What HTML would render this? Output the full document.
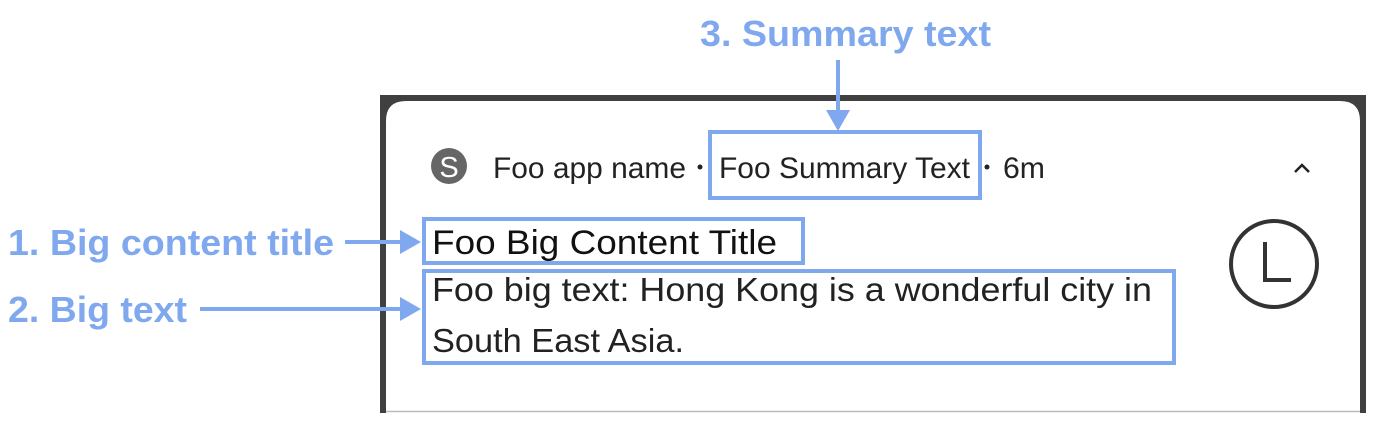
<!DOCTYPE html>
<html><head><meta charset="utf-8"><style>
html,body{margin:0;padding:0;background:#fff;width:1400px;height:444px;overflow:hidden}
</style></head><body>
<svg width="1400" height="444" viewBox="0 0 1400 444" xmlns="http://www.w3.org/2000/svg" font-family="Liberation Sans, sans-serif">
<rect width="1400" height="444" fill="#fff"/>
<path d="M380 413 V95 H1366 V413 Z" fill="#404040"/>
<path d="M386 413 V121 Q386 101 406 101 H1340 Q1360 101 1360 121 V413 Z" fill="#fff"/>
<line x1="386" y1="411.5" x2="1360" y2="411.5" stroke="#bbb" stroke-width="1.5"/>
<circle cx="449" cy="166" r="18" fill="#666"/>
<text x="449" y="177" font-size="29" fill="#fff" text-anchor="middle">S</text>
<text x="493" y="178" font-size="30" fill="#222" textLength="193" lengthAdjust="spacingAndGlyphs">Foo app name</text>
<circle cx="700" cy="167" r="2.5" fill="#222"/>
<text x="719" y="178" font-size="30" fill="#222" textLength="251" lengthAdjust="spacingAndGlyphs">Foo Summary Text</text>
<circle cx="987" cy="167" r="2.5" fill="#222"/>
<text x="1003" y="178" font-size="30" fill="#222" textLength="42" lengthAdjust="spacingAndGlyphs">6m</text>
<path d="M1295 172 L1302 165 L1309 172" fill="none" stroke="#222" stroke-width="2.5"/>
<text x="432" y="254" font-size="34" fill="#111" textLength="345" lengthAdjust="spacingAndGlyphs">Foo Big Content Title</text>
<text x="432" y="301" font-size="33" fill="#222" textLength="720" lengthAdjust="spacingAndGlyphs">Foo big text: Hong Kong is a wonderful city in</text>
<text x="432" y="352" font-size="33" fill="#222" textLength="252" lengthAdjust="spacingAndGlyphs">South East Asia.</text>
<circle cx="1274" cy="264" r="43" fill="none" stroke="#333" stroke-width="4"/>
<path d="M1265 242 V280 H1291" fill="none" stroke="#333" stroke-width="4"/>
<g fill="none" stroke="#7fa8ee" stroke-width="4">
<rect x="710" y="132" width="270" height="66"/>
<rect x="424" y="219" width="379" height="44"/>
<rect x="424" y="271" width="750" height="92"/>
</g>
<g fill="#7fa8ee" stroke="#7fa8ee">
<line x1="838" y1="60" x2="838" y2="112" stroke-width="4"/>
<polygon points="826,110 850,110 838,131" stroke="none"/>
<line x1="345" y1="242" x2="402" y2="242" stroke-width="4"/>
<polygon points="400,230 400,254 421,242" stroke="none"/>
<line x1="200" y1="309" x2="402" y2="309" stroke-width="4"/>
<polygon points="400,297 400,321 421,309" stroke="none"/>
</g>
<g fill="#7fa8ee" font-weight="bold" font-size="36">
<text x="700" y="46" textLength="291" lengthAdjust="spacingAndGlyphs">3. Summary text</text>
<text x="8" y="255" textLength="326" lengthAdjust="spacingAndGlyphs">1. Big content title</text>
<text x="8" y="322" textLength="179" lengthAdjust="spacingAndGlyphs">2. Big text</text>
</g>
</svg>
</body></html>
